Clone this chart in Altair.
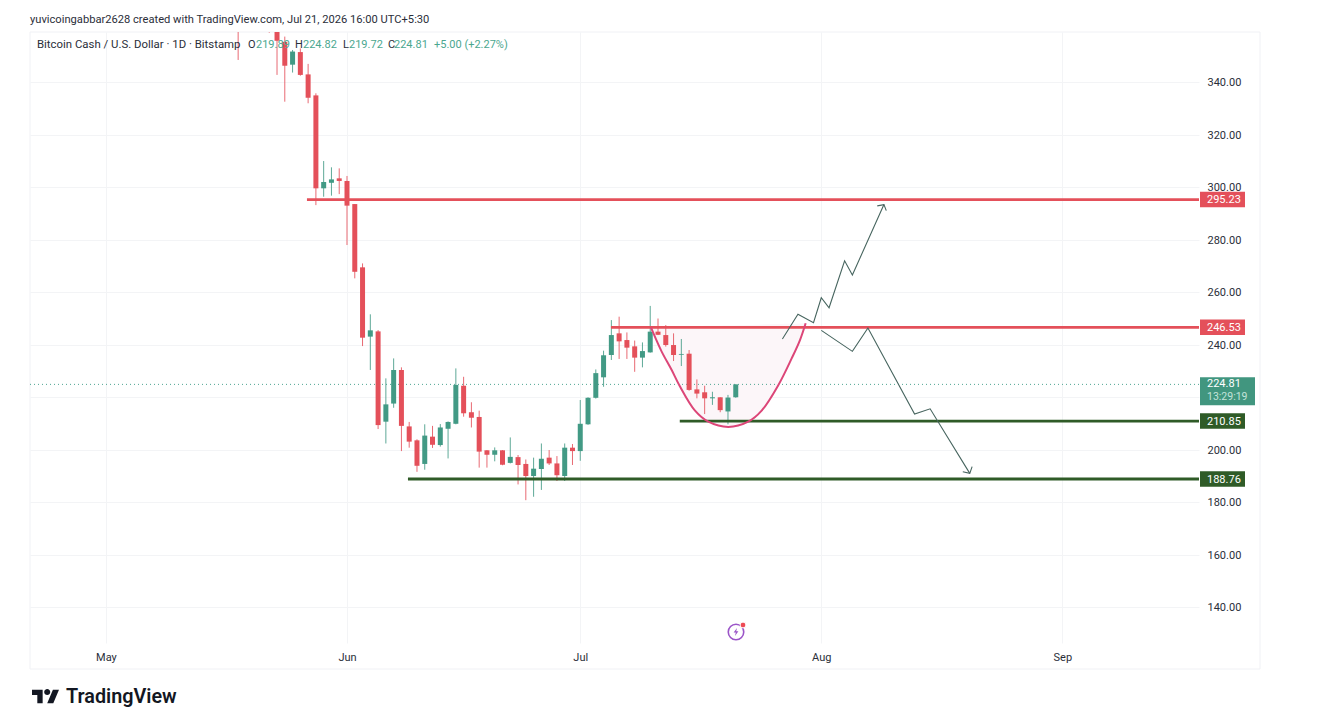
import altair as alt
import pandas as pd

# ---------- values ----------
candle_days = [17, 21] + list(range(22, 82))
opens = [370, 375, 362, 355.3, 346.6, 351.4, 342.9, 334.9, 299.5, 301.6, 303.3, 302.3, 293.5, 269.4, 243, 245,
         210.6, 217.5, 230.3, 208.8, 203.5, 194.5, 204.9, 201.7, 207.9, 209.8, 224.3, 214.2, 212.4, 199.7, 198, 199.7,
         194.9, 197.1, 194.5, 189.9, 192.6, 196.9, 194.7, 189.9, 200.7, 199.4, 209.6, 219.7, 227.5, 236, 244.25, 241.7,
         239.3, 235, 237, 244.9, 243.6, 239.8, 236.1, 236.5, 222.9, 221.8, 219.5, 219.9, 214.5, 219.89]
highs = [380, 380, 365, 357.3, 352.2, 352.8, 346.9, 335.7, 309.9, 307.5, 307.1, 304.2, 293.5, 270.9, 251.5, 245.5,
         227.1, 234.7, 231.3, 210.5, 203.9, 209.6, 209, 209.7, 210.7, 230.9, 227.7, 218, 214.8, 199.8, 200.8, 199.8,
         204.6, 197.9, 196.2, 196.9, 202.3, 199.8, 197.5, 202.3, 202.1, 218.85, 219.9, 230.5, 237.65, 249.3, 250.6, 244.6,
         241.5, 240.8, 254.7, 249.9, 247.4, 244.25, 242.1, 237.9, 226.7, 224.3, 222, 219.9, 220.8, 224.82]
lows = [348.4, 358.8, 342.7, 332.5, 343.6, 342.4, 331.9, 293.1, 296.3, 296.7, 297.3, 277.9, 265.2, 239.4, 230.3, 207.8,
        202.3, 215.9, 199.4, 200.7, 191.5, 192.3, 200.6, 201.1, 196.6, 209.6, 212.5, 208.4, 193.1, 193.1, 195.5, 194,
        194.7, 186.7, 180.7, 182, 184.6, 194.1, 188, 188, 194.1, 195.7, 209.4, 219.4, 223.9, 234.1, 234.5, 234.5,
        229.6, 231.3, 236.9, 243.6, 239.2, 233.7, 231.8, 222.4, 219.5, 213.5, 217, 214.2, 209.6, 219.72]
closes = [365, 368, 355.7, 346.2, 351.6, 342.7, 334, 299.5, 301.9, 302.9, 302.3, 292.9, 267.7, 242.6, 245.4, 209.3,
          217.2, 230.3, 209, 203, 193.8, 205.3, 201.8, 208.4, 210.5, 224.6, 213.8, 212.1, 199.2, 198, 199.7, 194.2,
          197.2, 194.1, 189.9, 192.7, 196.5, 194.7, 190.2, 200.7, 199.4, 209.8, 219.7, 229.1, 235.9, 243.6, 241.2, 238.8,
          235, 237.5, 244.9, 243.7, 239.8, 236, 236.4, 222.7, 221.3, 219.5, 219.9, 215, 219.8, 224.81]

res_prices = [295.23, 246.53]
res_starts = [25.85, 64.95]
sup_prices = [210.85, 188.76]
sup_starts = [73.8, 38.84]
level_end = 140.58
last_price = 224.81

arc_days = [70.1, 70.32, 71.47, 72.76, 73.74, 75.76, 77.47, 80.04, 82.61, 84.33, 86.47, 88.19, 89.26, 89.99]
arc_prices = [246.5, 244.9, 237.3, 230.3, 224.5, 214.8, 210.6, 208.6, 210.6, 214.8, 224.5, 234.7, 241.7, 248.1]
arc_chord = [246.5, 246.6, 246.7, 246.8, 246.9, 247.0, 247.1, 247.2, 247.4, 247.6, 247.8, 247.9, 248.0, 248.1]

up_days = [87, 89, 91, 92, 93, 95, 96, 100.06]
up_prices = [242.1, 251.5, 248.3, 257.8, 254.0, 271.9, 266.5, 293.3]
up_head_days = [99.2, 100.06, 100.36]
up_head_prices = [292.8, 293.3, 291.0]
down_days = [92, 96, 98, 104, 106, 111.1]
down_prices = [245.4, 237.4, 246.3, 213.5, 215.5, 190.9]
down_head_days = [110.2, 111.1, 111.4]
down_head_prices = [191.5, 190.9, 193.5]

y_ticks = [140, 160, 180, 200, 220, 240, 260, 280, 300, 320, 340]
x_ticks = ["2026-05-01T00:00:00", "2026-06-01T00:00:00", "2026-07-01T00:00:00", "2026-08-01T00:00:00", "2026-09-01T00:00:00"]

RED = "#e4505a"
GREEN = "#429a85"
DKGREEN = "#2f5b27"
PINK = "#dc4678"
PATH = "#47655f"
GRID = "#f3f4f6"
FRAME = "#f0f1f5"
FONT = "Roboto"
W, H = 1169, 611

def when(d):
    return pd.Timestamp("2026-05-01") + pd.Timedelta(days=d)

X = alt.X("t:T", title=None, scale=alt.Scale(domain=["2026-04-21T05:31:00", "2026-09-18T13:55:00"], padding=0),
          axis=alt.Axis(values=x_ticks, format="%b", grid=True, gridColor=GRID, domain=False, ticks=False,
                        labelPadding=8, labelFontSize=11, labelColor="#2a2e39", labelFont=FONT, labelAlign="center",
                        labelFlush=False, labelOverlap=False))
# the 220 label sits under the last-price tag in the reference, so only its gridline shows
Y = alt.Y("p:Q", title=None, scale=alt.Scale(domain=[126.29, 359.05], nice=False, zero=False),
          axis=alt.Axis(values=y_ticks, labelExpr="datum.value == 220 ? '' : format(datum.value, '.2f')",
                        orient="right", grid=True, gridColor=GRID, domain=False,
                        ticks=False, labelPadding=8, labelFontSize=11, labelColor="#2a2e39", labelFont=FONT, labelOffset=0.5))

candles = pd.DataFrame({"t": [when(d) for d in candle_days], "o": opens, "h": highs, "l": lows, "c": closes})
candles["p"] = candles["h"]
candles["dir"] = ["up" if c >= o else "down" for o, c in zip(opens, closes)]
color = alt.Color("dir:N", scale=alt.Scale(domain=["up", "down"], range=[GREEN, RED]), legend=None)

wicks = alt.Chart(candles).mark_rule(strokeWidth=1, clip=True, opacity=0.85).encode(x="t:T", y="p:Q", y2="l:Q", color=color)
bodies = alt.Chart(candles).mark_bar(size=5, clip=True).encode(x="t:T", y="o:Q", y2="c:Q", color=color)

def level_layer(starts, prices, col):
    df = pd.DataFrame({"t": [when(d) for d in starts], "t2": [when(level_end)] * len(starts), "p": prices})
    return alt.Chart(df).mark_rule(strokeWidth=2.8, color=col).encode(x="t:T", x2="t2:T", y="p:Q")

lastline = alt.Chart(pd.DataFrame({"p": [last_price]})).mark_rule(strokeWidth=1, strokeDash=[1, 3], color="#4fa592").encode(
    y="p:Q", x=alt.value(0), x2=alt.value(W))

arc = pd.DataFrame({"t": [when(d) for d in arc_days], "p": arc_prices, "c": arc_chord})
arc_fill = alt.Chart(arc).mark_area(color="#fcf6f9", interpolate="catmull-rom").encode(x=X, y=Y, y2="c:Q")
arc_line = alt.Chart(arc).mark_line(color=PINK, strokeWidth=2, interpolate="catmull-rom").encode(x="t:T", y="p:Q")

def poly(days, prices):
    df = pd.DataFrame({"t": [when(d) for d in days], "p": prices, "i": list(range(len(days)))})
    return alt.Chart(df).mark_line(color=PATH, strokeWidth=1.1).encode(x="t:T", y="p:Q", order="i:Q")

paths = [poly(up_days, up_prices), poly(up_head_days, up_head_prices),
         poly(down_days, down_prices), poly(down_head_days, down_head_prices)]

# ---------- price tags on the scale ----------
def tag(price, color, x2, h):
    return alt.Chart(pd.DataFrame({"p": [price]})).mark_rule(strokeWidth=h, color=color).encode(
        y="p:Q", x=alt.value(W + 1), x2=alt.value(x2))

def tag_text(price, text, color="white", dy=0.5, size=11):
    return alt.Chart(pd.DataFrame({"p": [price]})).mark_text(
        text=text, color=color, font=FONT, fontSize=size, align="left", baseline="middle", dy=dy).encode(
        y="p:Q", x=alt.value(W + 8))

tags = []
for price, col in zip(res_prices + sup_prices, [RED, RED, DKGREEN, DKGREEN]):
    tags += [tag(price, col, W + 46, 15.5), tag_text(price, f"{price:.2f}")]
tags += [tag(222.2, "#41967f", W + 56, 28), tag_text(last_price, "224.81", dy=0), tag_text(last_price, "13:29:19", "#c3e3da", 12.5, 10.5)]

# ---------- frame and page text ----------
one = alt.Data(values=[{}])
def rule(x, y, x2=None, y2=None):
    enc = dict(x=alt.value(x), y=alt.value(y))
    if x2 is not None:
        enc["x2"] = alt.value(x2)
    if y2 is not None:
        enc["y2"] = alt.value(y2)
    return alt.Chart(one).mark_rule(color=FRAME, strokeWidth=1).encode(**enc)

frame = [rule(0, 0, x2=1230), rule(0, 637, x2=1230), rule(0, 0, y2=637), rule(1230, 0, y2=637)]

def label(text, px, py, color="#2a2e39", size=11, weight="normal"):
    return alt.Chart(one).mark_text(text=text, color=color, font=FONT, fontSize=size, fontWeight=weight,
                                    align="left", baseline="middle").encode(x=alt.value(px - 30), y=alt.value(py - 32))

TXT = "#4ba78f"
texts = [
    label("yuvicoingabbar2628 created with TradingView.com, Jul 21, 2026 16:00 UTC+5:30", 30, 20, size=11.15),
    label("Bitcoin Cash / U.S. Dollar · 1D · Bitstamp", 37, 45, size=11.4),
    label("O", 248, 45), label("219.89", 256, 45, TXT),
    label("H", 295, 45), label("224.82", 303, 45, TXT),
    label("L", 343, 45), label("219.72", 349, 45, TXT),
    label("C", 388, 45), label("224.81", 394, 45, TXT),
    label("+5.00 (+2.27%)", 434, 45, TXT),
    label("TradingView", 66, 697, "#131722", 19.8, 600),
]

LOGO = ("M-.211 .507H-.606V-.113H-1V-.507H-.211Z M.577 .507H.127L.549 -.507H1Z "
        "M.352 -.338A.225 .225 0 1 1 -.098 -.338A.225 .225 0 1 1 .352 -.338Z")
logo = alt.Chart(one).mark_point(shape=LOGO, size=729, filled=True, color="#131722", opacity=1, strokeWidth=0).encode(
    x=alt.value(45.5 - 30), y=alt.value(696.5 - 32))
BOLT = "M.25 -1L-.6 .15H-.05L-.25 1L.6 -.2H.05Z"
flash = [
    alt.Chart(one).mark_point(shape="circle", size=240, color="#9b55c8", strokeWidth=1.6, filled=False, opacity=1).encode(
        x=alt.value(736 - 30), y=alt.value(632 - 32)),
    alt.Chart(one).mark_point(shape=BOLT, size=64, color="#9b55c8", filled=True, opacity=1, strokeWidth=0).encode(
        x=alt.value(736 - 30), y=alt.value(632 - 32)),
    alt.Chart(one).mark_point(shape="circle", size=34, color="#ee4a55", filled=True, opacity=1, stroke="white", strokeWidth=1).encode(
        x=alt.value(743 - 30), y=alt.value(625 - 32)),
]

chart = alt.layer(
    arc_fill, *frame, lastline, wicks, bodies,
    level_layer(res_starts, res_prices, RED), level_layer(sup_starts, sup_prices, DKGREEN),
    arc_line, *paths, *tags, *texts, logo, *flash
).properties(
    width=W, height=H,
    padding={"left": 22, "top": 24, "right": 100, "bottom": 67},
    autosize=alt.AutoSizeParams(type="none"),
    background="white",
).configure_view(stroke=None)

chart.save("out.html", embed_options={"renderer": "svg", "actions": False})
